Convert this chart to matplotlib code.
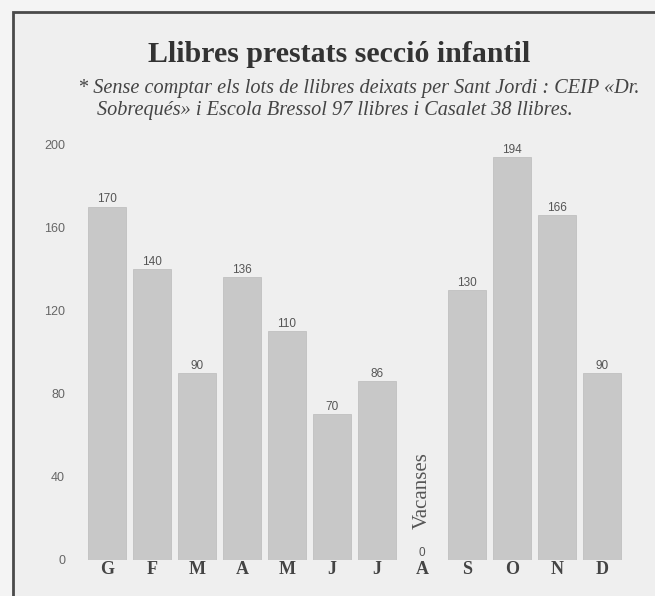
import matplotlib
matplotlib.use('Agg')
import matplotlib.pyplot as plt

# ── Data ───────────────────────────────────────────────────────────
months = ['G', 'F', 'M', 'A', 'M', 'J', 'J', 'A', 'S', 'O', 'N', 'D']
values = [170, 140, 90, 136, 110, 70, 86, 0, 130, 194, 166, 90]
yticks = [0, 40, 80, 120, 160, 200]

title = 'Llibres prestats secció infantil'
note_1 = '* Sense comptar els lots de llibres deixats per Sant Jordi : CEIP «Dr.'
note_2 = 'Sobrequés» i Escola Bressol 97 llibres i Casalet 38 llibres.'

BG = '#efefef'
BAR = '#c8c8c8'

fig = plt.figure(figsize=(6.55, 5.96), dpi=100, facecolor='#f4f4f4')

# frame / panel background
fig.patches.append(plt.Rectangle((13 / 655, -0.01), 1, 1.01 - 12 / 596,
                                 transform=fig.transFigure, facecolor=BG,
                                 edgecolor='#4a4a4a', lw=2.0, zorder=-5))

ax = fig.add_axes([84.5 / 655, 36 / 596, 540 / 655, 420 / 596])
ax.set_zorder(2)
ax.patch.set_alpha(0)
x = list(range(len(months)))
ax.bar(x, values, width=0.86, color=BAR, edgecolor='#c0c0c0', lw=0.6)

for i, v in enumerate(values):
    ax.text(i, v + 0.5, str(v), ha='center', va='bottom', fontsize=8.5,
            color='#555555', family='Liberation Sans')

ax.text(7, 33.5, 'Vacanses', rotation=90, ha='center', va='center',
        fontsize=15, color='#555555', family='Liberation Serif')

ax.set_xlim(-0.5, 11.5)
ax.set_ylim(0, 202)
ax.set_xticks(x)
ax.set_xticklabels(months, family='Liberation Serif', fontweight='bold',
                   fontsize=13, color='#444444')
ax.set_yticks(yticks)
ax.set_yticklabels([str(t) for t in yticks], family='Liberation Sans',
                   fontsize=9, color='#666666')
ax.tick_params(length=0)
ax.tick_params(axis='y', pad=14)
ax.tick_params(axis='x', pad=1)
for s in ax.spines.values():
    s.set_visible(False)

fig.text(339 / 655, 1 - 62 / 596, title, ha='center', va='baseline',
         fontsize=21.5, fontweight='bold', family='Liberation Serif',
         color='#333333')
fig.text(78 / 655, 1 - 93 / 596, note_1, ha='left', va='baseline',
         fontsize=14.6, style='italic', family='Liberation Serif',
         color='#444444')
fig.text(97 / 655, 1 - 115 / 596, note_2, ha='left', va='baseline',
         fontsize=14.6, style='italic', family='Liberation Serif',
         color='#444444')

fig.savefig('out.png', dpi=100, facecolor=fig.get_facecolor())
